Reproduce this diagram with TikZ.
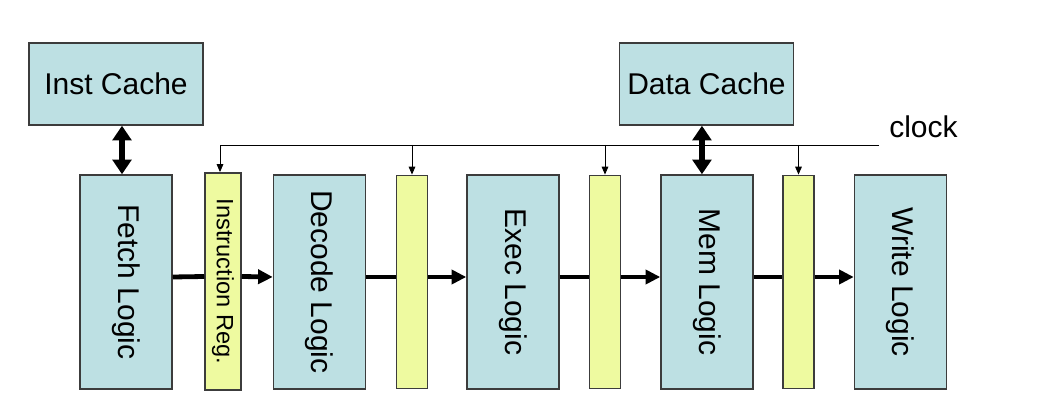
\documentclass[tikz,border=0pt]{standalone}
\usepackage{fontspec}
\setmainfont{Liberation Sans}
\usetikzlibrary{arrows.meta}
\definecolor{logicFill}{HTML}{BDE0E3}
\definecolor{regFill}{HTML}{EEFAA0}
\definecolor{boxLine}{HTML}{3C3C3C}
\begin{document}
\begin{tikzpicture}[x=0.75pt, y=-0.75pt,
    logic/.style={draw=boxLine, line width=1.1pt, fill=logicFill, inner sep=0pt,
        minimum width=69pt, minimum height=160.5pt, font=\fontsize{22.5}{26}\selectfont},
    cache/.style={logic, minimum width=130.5pt, minimum height=61.5pt},
    reg/.style={draw=boxLine, line width=1.1pt, fill=regFill, inner sep=0pt,
        minimum width=23.5pt, minimum height=160pt, font=\fontsize{17.7}{20}\selectfont},
    bus/.style={line width=3.6pt, -{Triangle[length=11pt, width=10.5pt]}},
    dbl/.style={line width=5pt, {Triangle[length=11pt, width=14pt]}-{Triangle[length=11pt, width=14pt]}},
    clkline/.style={line width=0.7pt},
    tap/.style={clkline, -{Triangle[length=6pt, width=5pt]}}]
    \useasboundingbox (0,0) rectangle (1054,413);
    \node[cache] (icache) at (116,84) {Inst Cache};
    \node[cache] (dcache) at (706.5,84) {Data Cache};
    \node[logic] (fetch) at (126,282) {\rotatebox{-90}{Fetch Logic}};
    \node[logic] (decode) at (319.5,282) {\rotatebox{-90}{Decode Logic}};
    \node[logic] (exec) at (513,282) {\rotatebox{-90}{Exec Logic}};
    \node[logic] (mem) at (707,282) {\rotatebox{-90}{Mem Logic}};
    \node[logic] (write) at (900.5,282) {\rotatebox{-90}{Write Logic}};
    \node[reg, minimum width=27pt, minimum height=163pt] (ir) at (223,281.5) {\rotatebox{-90}{Instruction Reg.}};
    \node[reg] (r2) at (412,282) {};
    \node[reg] (r3) at (605,282) {};
    \node[reg] (r4) at (798.5,282) {};
    \foreach \a/\r/\b in {fetch/ir/decode, decode/r2/exec, exec/r3/mem, mem/r4/write} {
        \draw[line width=3.6pt] ([yshift=3.75pt]\a.east) -- ([yshift=3.75pt]\r.west);
        \draw[bus] ([yshift=3.75pt]\r.east) -- ([yshift=3.75pt]\b.west);
    }
    \draw[dbl] ([xshift=4.5pt]icache.south) -- ([xshift=4.5pt]icache.south |- fetch.north);
    \draw[dbl] ([xshift=-3.4pt]dcache.south) -- ([xshift=-3.4pt]dcache.south |- mem.north);
    \node[font=\fontsize{22.5}{26}\selectfont, anchor=west, inner sep=0pt] (clock) at (889,127) {clock};
    \coordinate (clk) at (879,145);
    \draw[tap] (clk) -- ([xshift=-2.25pt]ir.north |- clk) -- ([xshift=-2.25pt]ir.north);
    \foreach \r in {r2, r3, r4}
        \draw[tap] (\r.north |- clk) -- (\r.north);
\end{tikzpicture}
\end{document}
